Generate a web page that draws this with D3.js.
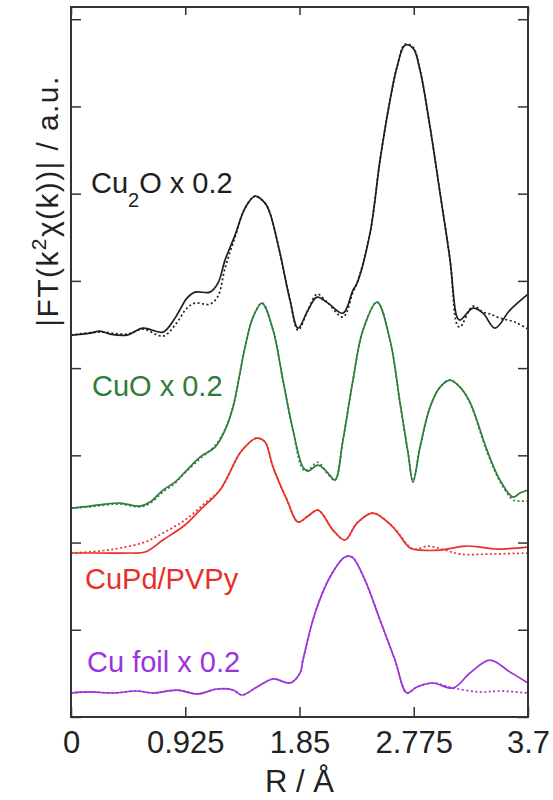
<!DOCTYPE html>
<html>
<head>
<meta charset="utf-8">
<script src="https://cdn.jsdelivr.net/npm/d3@7"></script>
<style>
  body { margin: 0; background: #fff; }
  text { font-family: "Liberation Sans", Arial, sans-serif; }
</style>
</head>
<body>
<div id="chart"></div>
<script>
// R / Angstrom, |FT| in a.u. (offset curves)
const xTicks = [0, 0.925, 1.85, 2.775, 3.7];
const yTicks = [0, 1, 2, 3, 4, 5, 6, 7, 8];

const cu2oExp = [[0,4.378],[0.154,4.401],[0.235,4.424],[0.316,4.39],[0.453,4.378],[0.583,4.458],[0.745,4.413],[0.842,4.573],[0.939,4.802],[1.004,4.871],[1.125,4.871],[1.19,4.974],[1.247,5.238],[1.328,5.524],[1.409,5.834],[1.49,5.971],[1.571,5.891],[1.611,5.776],[1.692,5.318],[1.773,4.779],[1.838,4.458],[1.919,4.665],[1.992,4.814],[2.081,4.745],[2.202,4.63],[2.283,4.894],[2.316,4.974],[2.421,5.547],[2.502,6.384],[2.583,7.072],[2.639,7.45],[2.704,7.702],[2.769,7.668],[2.826,7.415],[2.907,6.762],[2.988,6.006],[3.069,5.238],[3.125,4.585],[3.149,4.55],[3.255,4.688],[3.336,4.63],[3.433,4.458],[3.554,4.665],[3.7,4.848]];
const cu2oFit = [[0,4.378],[0.235,4.413],[0.453,4.39],[0.583,4.447],[0.745,4.367],[0.842,4.493],[0.939,4.688],[1.004,4.745],[1.125,4.733],[1.19,4.825],[1.247,5.146],[1.328,5.5],[1.409,5.834],[1.49,5.971],[1.571,5.891],[1.611,5.776],[1.692,5.318],[1.773,4.779],[1.838,4.436],[1.919,4.665],[1.992,4.848],[2.081,4.745],[2.202,4.585],[2.283,4.87],[2.316,4.974],[2.421,5.547],[2.502,6.384],[2.583,7.072],[2.639,7.45],[2.704,7.713],[2.769,7.68],[2.826,7.415],[2.907,6.762],[2.988,6.006],[3.069,5.238],[3.125,4.5],[3.149,4.47],[3.255,4.71],[3.336,4.642],[3.392,4.62],[3.473,4.573],[3.595,4.527],[3.7,4.447]];

const cuoExp = [[0,2.395],[0.154,2.418],[0.275,2.441],[0.397,2.453],[0.559,2.418],[0.64,2.464],[0.745,2.602],[0.842,2.693],[0.923,2.808],[1.044,2.98],[1.166,3.095],[1.247,3.289],[1.312,3.553],[1.409,4.241],[1.474,4.585],[1.546,4.745],[1.636,4.436],[1.716,3.862],[1.797,3.289],[1.878,2.865],[1.919,2.819],[2.0,2.888],[2.081,2.797],[2.137,2.716],[2.202,3.175],[2.283,3.862],[2.364,4.436],[2.478,4.756],[2.583,4.321],[2.664,3.599],[2.729,3.026],[2.769,2.693],[2.826,3.095],[2.907,3.553],[2.988,3.782],[3.069,3.862],[3.149,3.782],[3.23,3.61],[3.368,3.06],[3.473,2.716],[3.579,2.521],[3.635,2.567],[3.7,2.602]];
const cuoFit = [[0,2.395],[0.154,2.41],[0.275,2.43],[0.397,2.441],[0.559,2.41],[0.64,2.45],[0.745,2.58],[0.842,2.68],[0.923,2.8],[1.044,2.96],[1.166,3.11],[1.247,3.3],[1.312,3.56],[1.409,4.241],[1.474,4.585],[1.546,4.745],[1.636,4.436],[1.716,3.862],[1.797,3.289],[1.878,2.84],[1.919,2.83],[2.0,2.92],[2.081,2.78],[2.137,2.716],[2.202,3.175],[2.283,3.862],[2.364,4.436],[2.478,4.756],[2.583,4.321],[2.664,3.599],[2.729,3.026],[2.769,2.71],[2.826,3.095],[2.907,3.553],[2.988,3.782],[3.069,3.862],[3.149,3.782],[3.23,3.6],[3.368,3.04],[3.473,2.7],[3.579,2.49],[3.635,2.475],[3.7,2.475]];

const cupdExp = [[0,1.88],[0.235,1.88],[0.478,1.88],[0.599,1.891],[0.745,2.029],[0.923,2.201],[1.044,2.372],[1.206,2.602],[1.368,3.026],[1.449,3.152],[1.506,3.198],[1.571,3.152],[1.636,2.865],[1.749,2.487],[1.838,2.235],[1.919,2.304],[2.0,2.372],[2.121,2.143],[2.218,2.029],[2.316,2.224],[2.445,2.338],[2.607,2.178],[2.745,1.937],[2.826,1.914],[2.988,1.914],[3.19,1.96],[3.312,1.948],[3.433,1.926],[3.7,1.948]];
const cupdFit = [[0,1.88],[0.235,1.903],[0.397,1.937],[0.599,2.006],[0.745,2.109],[0.923,2.258],[1.085,2.453],[1.206,2.602],[1.368,3.026],[1.449,3.152],[1.506,3.198],[1.571,3.152],[1.636,2.865],[1.749,2.487],[1.838,2.235],[1.919,2.304],[2.0,2.372],[2.121,2.143],[2.218,2.029],[2.316,2.224],[2.445,2.338],[2.607,2.178],[2.769,1.926],[2.89,1.96],[3.028,1.914],[3.149,1.868],[3.392,1.868],[3.7,1.88]];

const cuExp = [[0,0.275],[0.154,0.287],[0.34,0.275],[0.534,0.298],[0.664,0.275],[0.858,0.309],[1.028,0.264],[1.182,0.321],[1.312,0.309],[1.385,0.252],[1.506,0.344],[1.636,0.436],[1.773,0.39],[1.854,0.504],[1.878,0.653],[1.976,1.192],[2.097,1.605],[2.218,1.834],[2.275,1.834],[2.38,1.57],[2.502,1.112],[2.623,0.653],[2.72,0.275],[2.801,0.344],[2.931,0.39],[3.093,0.332],[3.23,0.504],[3.392,0.653],[3.554,0.516],[3.7,0.39]];
const cuFit = [[0,0.275],[0.154,0.287],[0.34,0.275],[0.534,0.298],[0.664,0.275],[0.858,0.309],[1.028,0.264],[1.182,0.321],[1.312,0.309],[1.385,0.252],[1.506,0.344],[1.636,0.436],[1.773,0.39],[1.854,0.504],[1.878,0.653],[1.976,1.192],[2.097,1.605],[2.218,1.834],[2.275,1.834],[2.38,1.57],[2.502,1.112],[2.623,0.653],[2.72,0.275],[2.801,0.344],[2.931,0.39],[3.093,0.332],[3.312,0.287],[3.473,0.298],[3.7,0.275]];

const series = [
    { exp: cu2oExp, fit: cu2oFit, color: "#1e1e1e" },
    { exp: cuoExp, fit: cuoFit, color: "#2e7d3a" },
    { exp: cupdExp, fit: cupdFit, color: "#e8302a" },
    { exp: cuExp, fit: cuFit, color: "#9a35dc" }
];

const width = 553;
const height = 800;
const margin = { top: 7, right: 25, bottom: 83, left: 71 };

const svg = d3.select("#chart")
    .append("svg")
    .attr("width", width)
    .attr("height", height);

const x = d3.scaleLinear()
    .domain([0, 3.7])
    .range([margin.left, width - margin.right]);

const y = d3.scaleLinear()
    .domain([0, 8.14])
    .range([height - margin.bottom, margin.top]);

const line = d3.line()
    .x(d => x(d[0]))
    .y(d => y(d[1]))
    .curve(d3.curveCatmullRom.alpha(0.5));

// curves
series.forEach(s => {
    svg.append("path")
        .datum(s.fit)
        .attr("d", line)
        .style("fill", "none")
        .style("stroke", s.color)
        .style("stroke-width", 1.7)
        .style("stroke-dasharray", "2,2.5");
    svg.append("path")
        .datum(s.exp)
        .attr("d", line)
        .style("fill", "none")
        .style("stroke", s.color)
        .style("stroke-width", 1.7);
});

// axes, ticks pointing inward
const tickLen = 10;
svg.append("g")
    .attr("transform", `translate(0,${y(0)})`)
    .call(d3.axisBottom(x).tickValues(xTicks).tickSize(-tickLen).tickPadding(14)
        .tickFormat(d => d === 0 ? "0" : String(d)));
svg.append("g")
    .attr("transform", `translate(0,${margin.top})`)
    .call(d3.axisTop(x).tickValues(xTicks).tickSize(-tickLen * 0.8).tickFormat(""));
svg.append("g")
    .attr("transform", `translate(${margin.left},0)`)
    .call(d3.axisLeft(y).tickValues(yTicks).tickSize(-tickLen).tickFormat(""));
svg.append("g")
    .attr("transform", `translate(${width - margin.right},0)`)
    .call(d3.axisRight(y).tickValues(yTicks).tickSize(-tickLen).tickFormat(""));

svg.selectAll(".domain").remove();
svg.selectAll(".tick line").style("stroke", "#333").style("stroke-width", 1.5);
svg.selectAll(".tick text")
    .style("font-size", "31px")
    .style("fill", "#222")
    .attr("dy", "0.72em");

svg.append("rect")
    .attr("x", x(0))
    .attr("y", margin.top)
    .attr("width", x(3.7) - x(0))
    .attr("height", y(0) - margin.top)
    .style("fill", "none")
    .style("stroke", "#333")
    .style("stroke-width", 2);

// axis titles
svg.append("text")
    .attr("x", (x(0) + x(3.7)) / 2)
    .attr("y", 792)
    .style("text-anchor", "middle")
    .style("font-size", "31px")
    .style("fill", "#222")
    .text("R / Å");

const yTitle = svg.append("text")
    .attr("transform", "translate(58,201) rotate(-90)")
    .style("text-anchor", "middle")
    .style("font-size", "30px")
    .style("letter-spacing", "1.4px")
    .style("fill", "#222");
yTitle.append("tspan").text("|FT(k");
yTitle.append("tspan").attr("dy", -12).style("font-size", "21px").text("2");
yTitle.append("tspan").attr("dy", 12).text("χ(k))| / a.u.");

// series labels
const cu2oLabel = svg.append("text")
    .attr("x", 91).attr("y", 193)
    .style("font-size", "29px").style("fill", "#1e1e1e");
cu2oLabel.append("tspan").text("Cu");
cu2oLabel.append("tspan").attr("dy", 14).style("font-size", "20px").text("2");
cu2oLabel.append("tspan").attr("dy", -14).text("O x 0.2");

svg.append("text").attr("x", 92).attr("y", 396)
    .style("font-size", "29px").style("fill", "#2e7d3a").text("CuO x 0.2");
svg.append("text").attr("x", 85).attr("y", 589)
    .style("font-size", "29px").style("fill", "#e8302a").text("CuPd/PVPy");
svg.append("text").attr("x", 87).attr("y", 672)
    .style("font-size", "29px").style("fill", "#9a35dc").text("Cu foil x 0.2");
</script>
</body>
</html>
